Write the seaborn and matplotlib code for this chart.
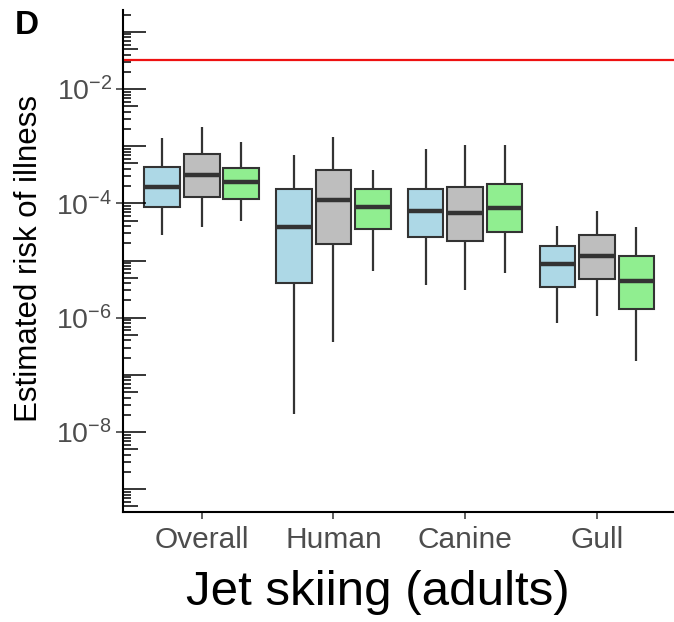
import numpy as np
import pandas as pd
import matplotlib
matplotlib.use("Agg")
import matplotlib.pyplot as plt
import matplotlib.ticker as mticker
import seaborn as sns

# ---------------- data ----------------
categories = ["Overall", "Human", "Canine", "Gull"]
groups = ["Scenario 1", "Scenario 2", "Scenario 3"]
colors = ["#ADD8E6", "#BEBEBE", "#90EE90"]

# five-number summaries (whisker low, Q1, median, Q3, whisker high) per category
g1_low = [2.8e-5, 2.1e-8, 3.8e-6, 8.2e-7]
g1_q1 = [8.5e-5, 4.1e-6, 2.55e-5, 3.5e-6]
g1_med = [1.91e-4, 3.8e-5, 7.3e-5, 8.6e-6]
g1_q3 = [4.37e-4, 1.76e-4, 1.78e-4, 1.8e-5]
g1_high = [1.37e-3, 7.0e-4, 8.9e-4, 4.0e-5]

g2_low = [3.9e-5, 3.8e-7, 3.1e-6, 1.07e-6]
g2_q1 = [1.28e-4, 1.95e-5, 2.2e-5, 4.7e-6]
g2_med = [3.17e-4, 1.14e-4, 6.8e-5, 1.2e-5]
g2_q3 = [7.3e-4, 3.9e-4, 1.9e-4, 2.8e-5]
g2_high = [2.19e-3, 1.45e-3, 1.05e-3, 7.3e-5]

g3_low = [4.9e-5, 6.6e-6, 6.0e-6, 1.77e-7]
g3_q1 = [1.2e-4, 3.5e-5, 3.2e-5, 1.4e-6]
g3_med = [2.36e-4, 8.7e-5, 8.4e-5, 4.4e-6]
g3_q3 = [4.1e-4, 1.76e-4, 2.15e-4, 1.2e-5]
g3_high = [1.2e-3, 3.9e-4, 1.05e-3, 3.8e-5]

threshold = 0.032
y_ticks = [1e-2, 1e-4, 1e-6, 1e-8]
x_label = "Jet skiing (adults)"
y_label = "Estimated risk of illness"
panel_tag = "D"

# ---------------- build table ----------------
summaries = {
    groups[0]: [g1_low, g1_q1, g1_med, g1_q3, g1_high],
    groups[1]: [g2_low, g2_q1, g2_med, g2_q3, g2_high],
    groups[2]: [g3_low, g3_q1, g3_med, g3_q3, g3_high],
}
rows = []
for g, stats in summaries.items():
    for i, c in enumerate(categories):
        for s in stats:
            rows.append({"category": c, "group": g, "risk": s[i]})
df = pd.DataFrame(rows)

# ---------------- plot ----------------
sns.set_style("white")
plt.rcParams["font.family"] = ["Liberation Sans", "DejaVu Sans"]
plt.rcParams["mathtext.fontset"] = "custom"
plt.rcParams["mathtext.rm"] = "Liberation Sans"
plt.rcParams["mathtext.it"] = "Liberation Sans:italic"
plt.rcParams["mathtext.bf"] = "Liberation Sans:bold"

fig = plt.figure(figsize=(6.74, 6.22), dpi=100)
pos = [123 / 674, 1 - 512 / 622, 551 / 674, 502 / 622]
ax = fig.add_axes(pos)
ax.set_yscale("log")

edge = "#333333"
sns.boxplot(
    data=df, x="category", y="risk", hue="group",
    order=categories, hue_order=groups, palette=colors,
    saturation=1, whis=(0, 100), width=0.9, gap=0.1,
    linecolor=edge, linewidth=1.5, showcaps=False, fliersize=0,
    medianprops={"linewidth": 3.2, "color": edge},
    whiskerprops={"linewidth": 1.6, "color": edge},
    legend=False, ax=ax,
)

ax.axhline(threshold, color="#EE1111", lw=1.6, zorder=1)

ylo, yhi = 3.99e-10, 0.241
ax.set_ylim(ylo, yhi)
ax.set_xlim(-0.598, 3.586)

for s in ["top", "right"]:
    ax.spines[s].set_visible(False)
for s in ["left", "bottom"]:
    ax.spines[s].set_color("black")
    ax.spines[s].set_linewidth(1.5)

ax.yaxis.set_major_locator(mticker.FixedLocator(y_ticks))
ax.yaxis.set_major_formatter(mticker.LogFormatterSciNotation())
minor_short = [m * 10.0 ** e for e in range(-11, 1) for m in (2, 3, 4, 6, 7, 8, 9)]
ax.yaxis.set_minor_locator(mticker.FixedLocator(minor_short))
ax.yaxis.set_minor_formatter(mticker.NullFormatter())
ax.tick_params(axis="y", which="major", direction="out", length=4.8, width=1.1,
               color=edge, labelsize=20.5, labelcolor="#4D4D4D", pad=3, left=True)
ax.tick_params(axis="y", which="minor", direction="in", length=6, width=1.1,
               color="black", left=True)
ax.tick_params(axis="x", which="major", direction="out", length=5, width=1.1,
               color=edge, labelsize=21.5, labelcolor="#4D4D4D", pad=5, bottom=True)
ax.set_xlabel("")
ax.set_ylabel("")

# overlay axis for long (decade) and mid (5x) inside ticks
ax2 = fig.add_axes(pos)
ax2.set_yscale("log")
ax2.set_ylim(ylo, yhi)
ax2.patch.set_visible(False)
for s in ax2.spines.values():
    s.set_visible(False)
ax2.set_xticks([])
ax2.yaxis.set_major_locator(mticker.FixedLocator([10.0 ** e for e in range(-11, 1)]))
ax2.yaxis.set_minor_locator(mticker.FixedLocator([5 * 10.0 ** e for e in range(-11, 1)]))
ax2.yaxis.set_major_formatter(mticker.NullFormatter())
ax2.yaxis.set_minor_formatter(mticker.NullFormatter())
ax2.tick_params(axis="y", which="major", direction="in", length=16.5, width=1.1,
                color="black", left=True, labelleft=False)
ax2.tick_params(axis="y", which="minor", direction="in", length=10.8, width=1.1,
                color="black", left=True, labelleft=False)

fig.text(377.5 / 674, 1 - 605 / 622, x_label, ha="center", va="baseline",
         fontsize=35.5, color="black")
fig.text(14 / 674, 1 - 258 / 622, y_label, ha="left", va="center",
         rotation=90, fontsize=22.5, color="black")
fig.text(15 / 674, 1 - 33.5 / 622, panel_tag, ha="left", va="baseline",
         fontsize=24, fontweight="bold", color="black")

fig.savefig("out.png", dpi=100)
